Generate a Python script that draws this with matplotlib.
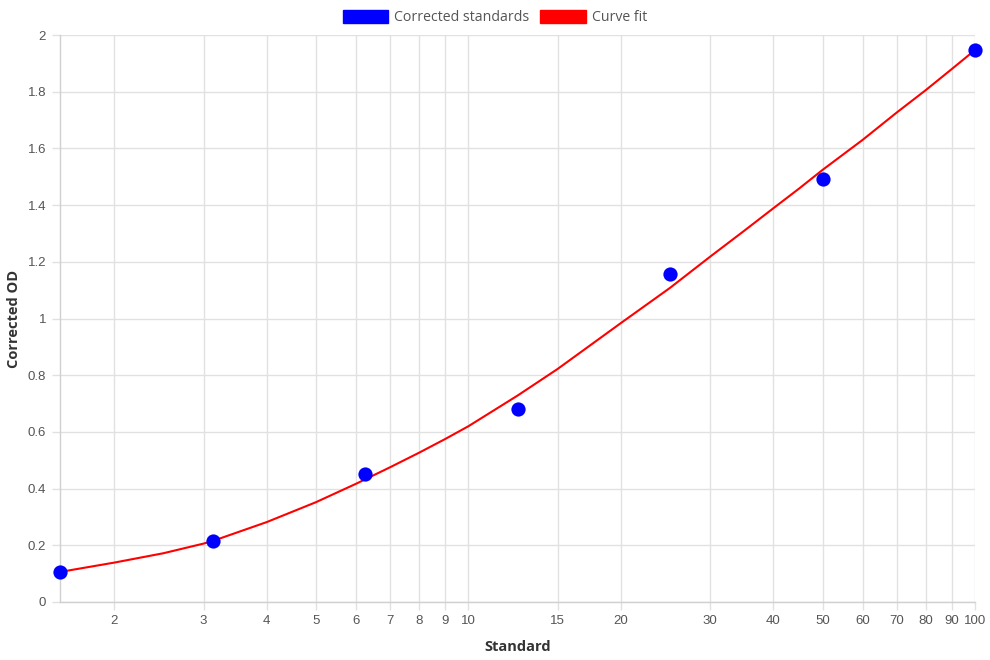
import matplotlib.pyplot as plt
from matplotlib.patches import Patch
from matplotlib.ticker import FixedLocator, NullLocator, FixedFormatter

# standards (doubling dilution) and measured corrected OD
std_x = [1.5625, 3.125, 6.25, 12.5, 25, 50, 100]
std_od = [0.107, 0.214, 0.453, 0.682, 1.156, 1.492, 1.947]

# curve fit at several x positions
fit_x = [1.5625, 2, 2.5, 3, 3.125, 4, 5, 6, 7, 8, 9, 10, 12.5, 15, 20,
         25, 30, 35, 40, 45, 50, 60, 70, 80, 90, 100]
fit_od = [0.106, 0.139, 0.172, 0.206, 0.215, 0.282, 0.352, 0.417, 0.475,
          0.527, 0.575, 0.620, 0.728, 0.822, 0.984, 1.108, 1.218, 1.309,
          1.389, 1.459, 1.524, 1.630, 1.726, 1.806, 1.880, 1.947]

x_ticks = [2, 3, 4, 5, 6, 7, 8, 9, 10, 15, 20, 30, 40, 50, 60, 70, 80, 90, 100]
y_ticks = [0, 0.2, 0.4, 0.6, 0.8, 1, 1.2, 1.4, 1.6, 1.8, 2]
y_labels = ['0', '0.2', '0.4', '0.6', '0.8', '1', '1.2', '1.4', '1.6', '1.8', '2']

grid_col = '#e1e1e1'
tick_font = 'Liberation Sans'
title_font = ['Open Sans', 'DejaVu Sans']

fig = plt.figure(figsize=(9.9, 6.6), dpi=100)
ax = fig.add_axes([60 / 990, 1 - 602 / 660, 915 / 990, 567 / 660])

ax.plot(fit_x, fit_od, color='#ff0000', lw=1.5, zorder=3, clip_on=False)
ax.scatter(std_x, std_od, s=105, color='#0000ff', zorder=4, clip_on=False,
           linewidths=0)

ax.set_xscale('log')
ax.set_xlim(1.5625, 100)
ax.set_ylim(0, 2)
ax.xaxis.set_major_locator(FixedLocator(x_ticks))
ax.xaxis.set_major_formatter(FixedFormatter([str(t) for t in x_ticks]))
ax.xaxis.set_minor_locator(NullLocator())
ax.set_yticks(y_ticks)
ax.set_yticklabels(y_labels)

ax.grid(True, color=grid_col, lw=1)
ax.set_axisbelow(True)
for s in ['top', 'right']:
    ax.spines[s].set_visible(False)
for s in ['left', 'bottom']:
    ax.spines[s].set_color('#d0d0d0')
    ax.spines[s].set_linewidth(1)

ax.tick_params(axis='both', length=6, width=1, color=grid_col,
               labelcolor='#555555', labelsize=9.5)
ax.tick_params(axis='y', pad=4)
ax.tick_params(axis='x', pad=3)
for lab in ax.get_xticklabels() + ax.get_yticklabels():
    lab.set_family(tick_font)

ax.set_xlabel('Standard', fontsize=10.5, fontweight='bold', color='#333333',
              family=title_font, labelpad=10)
ax.set_ylabel('Corrected OD', fontsize=10.5, fontweight='bold', color='#333333',
              family=title_font, labelpad=5)

handles = [Patch(facecolor='#0000ff', edgecolor='#0000ff', label='Corrected standards'),
           Patch(facecolor='#ff0000', edgecolor='#ff0000', label='Curve fit')]
fig.legend(handles=handles, loc='upper center', bbox_to_anchor=(0.5, 1.0),
           ncol=2, frameon=False, prop={'family': title_font, 'size': 10.2},
           handlelength=3.2, handleheight=1.05, handletextpad=0.45,
           columnspacing=0.75, labelcolor='#555555', borderaxespad=0.3)

plt.savefig('out.png', dpi=100)
